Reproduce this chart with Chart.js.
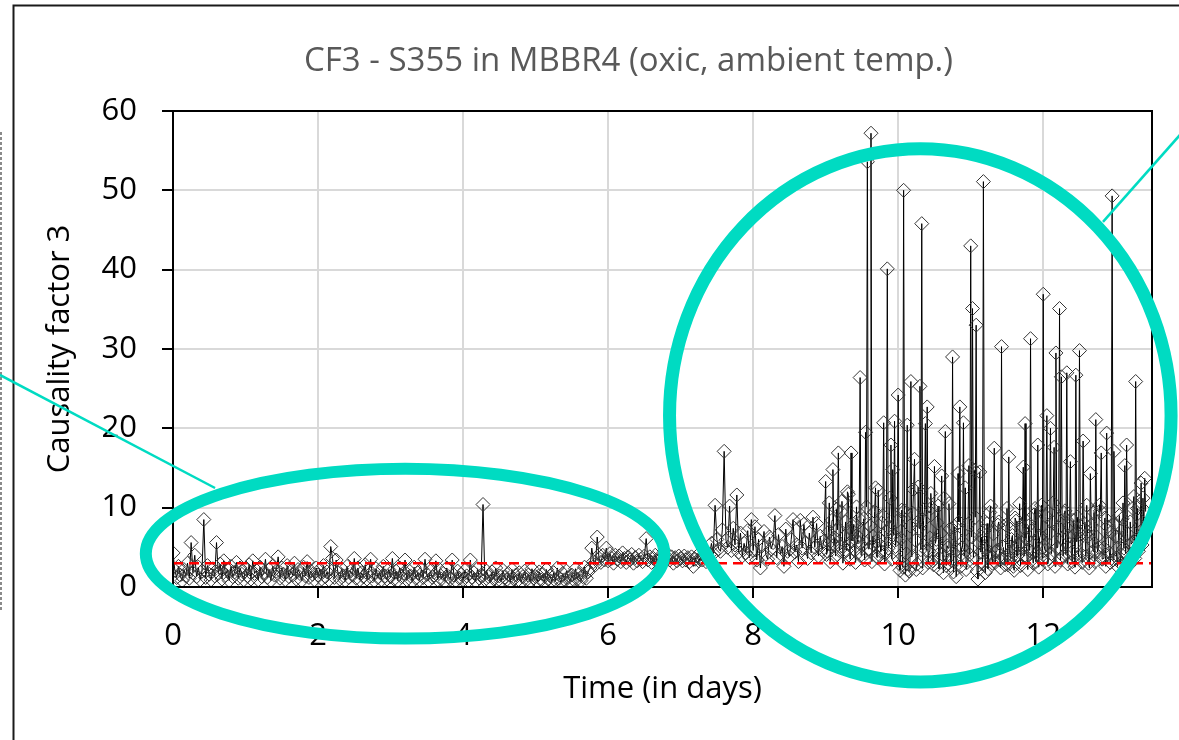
<!DOCTYPE html>
<html>
<head>
<meta charset="utf-8">
<script src="https://cdn.jsdelivr.net/npm/chart.js@4.4.1/dist/chart.umd.min.js"></script>
<style>
  html, body { margin: 0; padding: 0; background: #fff; }
</style>
</head>
<body>
<canvas id="myChart" width="1179" height="740"></canvas>
<script>
// one value every 0.025 day, one array per day
const step = 0.025
const day0 = [4.3,2.1,1.2,2.6,1.5,0.8,2.2,1.4,3.0,1.1, 5.6,1.8,4.0,1.3,2.5,0.9,2.0,8.5,1.2,2.7, 1.6,0.9,2.3,1.4,5.6,1.7,2.9,1.0,3.3,1.5, 2.2,0.8,2.6,1.3,1.9,3.1,1.1,2.4,1.6,0.9]
const day1 = [2.3,1.4,2.8,1.0,3.3,1.7,2.1,0.9,2.5,1.3, 1.8,3.5,1.2,2.2,0.8,2.6,1.5,2.0,3.8,1.1, 2.4,1.6,0.9,2.7,1.3,2.0,1.5,3.0,1.0,2.2, 1.7,0.8,2.5,1.4,3.2,1.2,2.0,1.6,0.9,2.4]
const day2 = [1.5,2.2,1.0,2.7,1.3,1.9,0.9,5.1,3.6,1.2, 3.4,1.8,1.0,2.3,1.4,0.8,2.6,1.2,2.0,1.5, 3.6,1.1,2.4,0.9,1.8,1.3,2.8,1.0,2.1,3.5, 1.4,0.8,2.3,1.2,1.9,0.9,2.6,1.4,1.0,2.2]
const day3 = [1.3,3.6,1.0,2.0,0.8,2.4,1.3,1.7,3.4,0.9, 2.1,1.4,0.7,2.5,1.1,1.8,0.9,2.3,1.2,3.5, 1.6,0.8,2.0,1.2,1.5,3.3,0.9,2.2,1.0,1.7, 0.7,2.4,1.3,1.0,3.4,1.5,0.8,2.0,1.1,1.6]
const day4 = [0.9,2.1,1.4,0.8,3.4,1.2,1.8,0.7,2.3,1.1, 1.5,10.4,0.9,2.0,1.3,0.6,1.9,1.0,2.4,0.8, 1.4,0.7,2.1,1.2,0.9,1.7,0.6,2.2,1.0,1.5, 0.8,1.8,0.6,1.3,2.0,0.9,1.5,0.7,2.3,1.1]
const day5 = [1.3,0.7,1.9,0.9,1.6,0.6,2.2,1.0,1.4,0.7, 1.8,0.8,2.4,1.1,0.6,1.7,0.9,2.0,1.2,0.7, 1.5,0.9,2.3,1.0,1.6,0.8,1.3,2.5,1.1,1.9, 2.4,4.9,3.2,2.8,6.3,3.6,3.1,4.0,3.4,4.9]
const day6 = [3.3,4.2,3.6,3.0,4.0,3.5,3.9,3.2,4.3,3.6, 3.1,3.8,3.4,4.1,3.0,3.7,3.3,4.0,3.5,3.2, 3.9,6.1,3.4,3.8,3.1,3.6,4.0,3.3,3.7,3.5, 3.9,3.2,3.6,4.1,3.4,3.8,3.0,3.7,3.3,3.9]
const day7 = [3.6,3.3,3.9,3.4,3.7,3.2,3.8,2.6,3.5,3.9, 3.3,3.7,3.4,3.9,3.2,3.6,4.1,5.5,4.2,10.3, 6.0,4.8,4.5,7.2,17.1,5.9,5.0,10.2,4.6,7.4, 5.3,11.6,4.4,6.8,3.9,5.5,4.3,7.1,3.7,8.5]
const day8 = [4.6,7.6,3.4,6.0,2.4,5.2,7.0,4.1,3.5,6.3, 4.8,5.6,9.0,3.7,6.6,4.2,5.1,2.6,7.3,4.5, 3.8,6.0,8.5,4.4,5.3,3.2,8.4,4.9,7.9,5.6, 3.6,6.8,4.3,8.8,5.0,8.0,3.9,6.4,4.7,5.8]
const day9 = [13.3,4.5,10.6,5.8,14.8,6.2,9.8,16.9,5.1,10.8, 4.3,8.2,12.0,5.5,16.9,7.0,4.6,10.1,6.3,26.4, 5.2,8.6,19.5,53.6,4.8,57.2,6.4,9.5,3.9,12.2, 5.3,8.1,20.7,4.2,40.1,7.4,17.9,14.8,20.9,6.0]
const day10 = [24.2,2.1,9.7,50.0,1.5,20.4,2.0,25.9,9.3,16.1, 2.2,12.6,25.3,45.8,8.4,20.6,22.7,4.5,11.8,3.3, 15.2,6.0,10.2,3.6,14.0,1.8,19.6,5.2,10.5,2.7, 29.0,7.6,1.3,14.3,22.7,4.9,20.7,12.5,3.1,15.3]
const day11 = [43.0,35.1,14.7,33.0,1.0,14.5,6.3,51.1,1.8,8.0, 4.2,10.2,3.0,17.5,4.5,7.8,3.4,30.3,5.0,2.8, 9.9,16.4,3.6,6.5,2.1,8.3,4.0,10.5,5.6,15.1, 20.6,3.8,7.7,31.3,4.4,9.1,3.2,17.9,6.2,10.3]
const day12 = [36.9,4.6,21.6,3.5,20.0,8.2,17.6,29.5,5.0,35.1, 26.5,3.9,9.6,27.0,6.4,15.8,3.2,6.6,26.7,8.8, 29.8,4.1,18.4,7.3,10.3,3.0,14.3,5.8,9.4,21.1, 4.4,10.3,16.9,3.6,8.7,19.4,5.5,3.1,49.3,17.1]
const day13 = [6.4,2.6,9.0,4.1,10.6,15.3,17.9,3.4,8.2,5.6,11.4,25.9,9.9,6.1,13.1,11.2,13.7]

// from day 9 on the logger ran twice as often: values half a step later
const day9b = [4.1,6.9,3.2,8.4,5.3,3.9,7.2,4.6,9.5,3.0, 6.4,4.6,11.7,3.5,5.8,7.9,3.1,5.7,8.6,4.0, 6.9,3.4,10.1,4.8,7.7,3.2,5.3,12.5,3.7,6.1, 4.5,9.0,2.9,7.0,4.9,11.2,3.5,6.6,5.1,8.3]
const day10b = [3.4,6.1,2.5,9.6,4.2,2.2,7.7,3.8,12.3,5.9, 2.9,7.4,4.7,2.4,9.8,4.6,3.1,6.2,10.0,2.8, 5.5,8.1,2.3,6.8,4.1,11.2,2.7,4.9,7.3,3.3, 1.9,6.5,4.7,8.2,2.6,5.0,3.9,2.2,7.9,4.1]
const day11b = [6.3,3.7,8.8,2.0,5.6,4.4,2.9,7.1,4.8,2.3, 9.4,3.9,6.7,3.1,4.6,8.2,2.4,5.1,3.6,7.8, 2.8,4.3,6.0,2.6,8.7,3.9,5.4,2.7,7.6,3.9, 6.1,2.2,4.6,7.1,3.0,9.9,4.2,2.5,6.5,3.5]
const day12b = [5.2,8.9,2.9,6.8,4.2,10.6,2.6,4.9,7.5,3.4, 6.1,9.3,4.1,2.9,7.7,4.3,8.4,2.5,5.7,3.8, 6.6,3.1,8.0,3.9,6.4,2.4,7.8,4.5,3.2,6.3, 5.0,9.6,3.5,4.9,2.6,7.6,4.3,6.9,3.4,8.0]
const day13b = [3.7,6.3,3.0,8.6,4.9,4.2,6.7,2.8,5.4,9.9,3.6,6.0,4.5,7.8,5.3,7.4,9.5]

const days = [day0, day1, day2, day3, day4, day5, day6, day7, day8, day9, day10, day11, day12, day13]
const halfDays = { 9: day9b, 10: day10b, 11: day11b, 12: day12b, 13: day13b }
const threshold = 3
const xTicks = [0, 2, 4, 6, 8, 10, 12]
const yTicks = [0, 10, 20, 30, 40, 50, 60]
const titleText = "CF3 - S355 in MBBR4 (oxic, ambient temp.)"

const points = []
days.forEach((vals, d) => {
  vals.forEach((v, k) => {
    points.push({ x: d + k * step, y: v })
    if (halfDays[d]) points.push({ x: d + (k + 0.5) * step, y: halfDays[d][k] })
  })
})

const fontName = "'Open Sans', 'Noto Sans', sans-serif"
const teal = "#00dbc2"

// teal highlight marks, in data units
const rings = [
  { cx: 3.2, cy: 4.2, rx: 3.575, ry: 10.7, w: 12 },
  { cx: 10.305, cy: 21.63, rx: 3.458, ry: 33.6, w: 13 },
]
const leaders = [
  [[-2.388, 26.73], [0.58, 12.48]],
  [[12.824, 46.03], [13.887, 57.0]],
]

const overlay = {
  id: "overlay",
  afterDraw: (chart) => {
    const ctx = chart.ctx
    const a = chart.chartArea
    const sx = chart.scales.x
    const sy = chart.scales.y
    ctx.save()
    ctx.strokeStyle = "#000"
    ctx.lineWidth = 2
    ctx.strokeRect(a.left, a.top, a.right - a.left, a.bottom - a.top)

    // chart title
    ctx.fillStyle = "#595959"
    ctx.font = "33px " + fontName
    ctx.textAlign = "center"
    ctx.textBaseline = "alphabetic"
    ctx.fillText(titleText, 628.5, 71)

    // frame of the figure
    ctx.lineWidth = 2
    ctx.strokeStyle = "#1a1a1a"
    ctx.beginPath()
    ctx.moveTo(13.5, 740)
    ctx.lineTo(13.5, 5.5)
    ctx.lineTo(1179, 5.5)
    ctx.stroke()
    ctx.strokeStyle = "#8a8a8a"
    ctx.setLineDash([3, 2])
    ctx.beginPath()
    ctx.moveTo(1, 132)
    ctx.lineTo(1, 612)
    ctx.stroke()
    ctx.setLineDash([])

    ctx.strokeStyle = teal
    rings.forEach((r) => {
      const cx = sx.getPixelForValue(r.cx)
      const cy = sy.getPixelForValue(r.cy)
      const rx = sx.getPixelForValue(r.cx + r.rx) - cx
      const ry = cy - sy.getPixelForValue(r.cy + r.ry)
      ctx.lineWidth = r.w
      ctx.beginPath()
      ctx.ellipse(cx, cy, rx, ry, 0, 0, Math.PI * 2)
      ctx.stroke()
    })
    ctx.lineWidth = 2.5
    leaders.forEach((l) => {
      ctx.beginPath()
      ctx.moveTo(sx.getPixelForValue(l[0][0]), sy.getPixelForValue(l[0][1]))
      ctx.lineTo(sx.getPixelForValue(l[1][0]), sy.getPixelForValue(l[1][1]))
      ctx.stroke()
    })
    ctx.restore()
  },
}

const config = {
  type: "line",
  data: {
    datasets: [
      {
        label: "threshold",
        data: [{ x: 0, y: threshold }, { x: 13.5, y: threshold }],
        borderColor: "#ff0000",
        borderWidth: 2.5,
        borderDash: [10, 6],
        pointRadius: 0,
        order: 0,
      },
      {
        label: "CF3",
        data: points,
        borderColor: "#000",
        borderWidth: 1,
        pointStyle: "rectRot",
        pointRadius: 7,
        pointBorderColor: "#333",
        pointBorderWidth: 1,
        pointBackgroundColor: "rgba(0,0,0,0)",
        tension: 0,
        order: 1,
      },
    ],
  },
  options: {
    responsive: false,
    animation: false,
    devicePixelRatio: 1,
    layout: { padding: { top: 111, right: 27, bottom: 0, left: 0 } },
    plugins: {
      legend: { display: false },
      tooltip: { enabled: false },
      title: { display: false },
    },
    scales: {
      x: {
        type: "linear",
        min: 0,
        max: 13.5,
        afterBuildTicks: (scale) => {
          scale.ticks = xTicks.map((v) => ({ value: v }))
        },
        afterFit: (scale) => {
          scale.height = 153
        },
        grid: { color: "#d9d9d9", lineWidth: 2, tickLength: 11, tickColor: "#000", tickWidth: 2 },
        border: { color: "#000", width: 2 },
        ticks: { color: "#000", padding: 20, font: { family: fontName, size: 31 } },
        title: {
          display: true,
          text: "Time (in days)",
          color: "#000",
          font: { family: fontName, size: 31, lineHeight: 1.2 },
          padding: { top: 0, bottom: 32 },
        },
      },
      y: {
        min: 0,
        max: 60,
        afterBuildTicks: (scale) => {
          scale.ticks = yTicks.map((v) => ({ value: v }))
        },
        afterFit: (scale) => {
          scale.width = 173
        },
        grid: { color: "#d9d9d9", lineWidth: 2, tickLength: 11, tickColor: "#000", tickWidth: 2 },
        border: { color: "#000", width: 2 },
        ticks: { color: "#000", padding: 25, font: { family: fontName, size: 31 } },
        title: {
          display: true,
          text: "Causality factor 3",
          color: "#000",
          font: { family: fontName, size: 31, lineHeight: 1.2 },
          padding: { top: 42, bottom: 0 },
        },
      },
    },
  },
  plugins: [overlay],
}

const myChart = new Chart(document.getElementById("myChart"), config)
</script>
</body>
</html>
